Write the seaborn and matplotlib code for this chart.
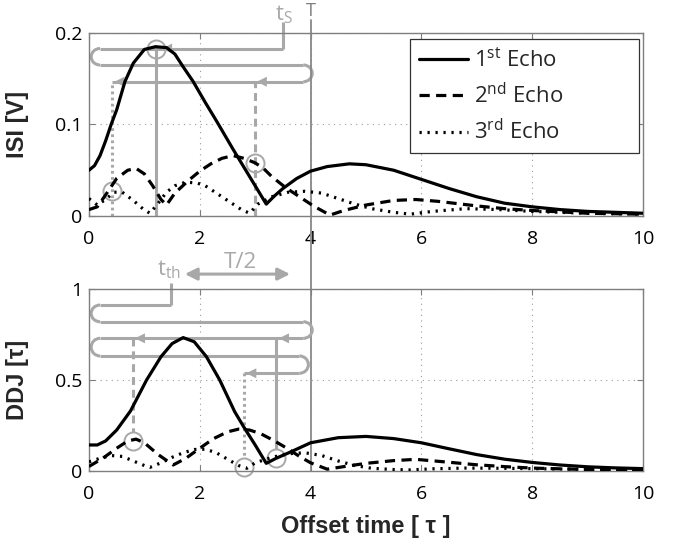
import numpy as np
import pandas as pd
import matplotlib
matplotlib.use('Agg')
import matplotlib.pyplot as plt
import seaborn as sns
from matplotlib.patches import Arc
from matplotlib.lines import Line2D

# ---------------- data ----------------
echo_labels = ['1st', '2nd', '3rd']
legend_text = ['1$^{st}$ Echo', '2$^{nd}$ Echo', '3$^{rd}$ Echo']
x_ticks = [0, 2, 4, 6, 8, 10]
isi_ticks = [0, 0.1, 0.2]
isi_tick_labels = ['0', '0.1', '0.2']
ddj_ticks = [0, 0.5, 1]
ddj_tick_labels = ['0', '0.5', '1']

# ISI [V]
t_isi1 = [0, 0.1, 0.2, 0.3, 0.4, 0.5, 0.65, 0.8, 1.0, 1.2, 1.4, 1.55, 1.7, 1.88, 2.1, 2.3, 2.6, 2.9,
          3.2, 3.35, 3.5, 3.75, 4.0, 4.3, 4.7, 5.0, 5.5, 6.0, 6.5, 7.0, 7.5, 8.0, 8.5, 9.0, 9.5, 10]
isi1 = [0.050, 0.055, 0.066, 0.082, 0.100, 0.116, 0.147, 0.167, 0.182, 0.185, 0.184, 0.177, 0.163,
        0.147, 0.124, 0.104, 0.073, 0.043, 0.013, 0.022, 0.030, 0.041, 0.049, 0.054, 0.057, 0.056,
        0.050, 0.040, 0.030, 0.021, 0.014, 0.010, 0.007, 0.005, 0.004, 0.003]
t_isi2 = [0, 0.15, 0.3, 0.5, 0.7, 0.85, 1.0, 1.15, 1.3, 1.4, 1.55, 1.8, 2.0, 2.2, 2.4, 2.6, 2.8, 3.0,
          3.15, 3.3, 3.55, 3.8, 4.05, 4.35, 4.6, 5.0, 5.5, 5.9, 6.3, 7.0, 7.5, 8.0, 9.0, 10]
isi2 = [0.007, 0.010, 0.023, 0.041, 0.050, 0.052, 0.046, 0.033, 0.018, 0.012, 0.025, 0.039, 0.049,
        0.057, 0.063, 0.066, 0.063, 0.058, 0.052, 0.043, 0.031, 0.021, 0.011, 0.001, 0.006, 0.012,
        0.017, 0.018, 0.016, 0.011, 0.008, 0.006, 0.003, 0.002]
t_isi3 = [0, 0.15, 0.3, 0.45, 0.6, 0.8, 0.97, 1.1, 1.25, 1.4, 1.55, 1.75, 1.95, 2.1, 2.3, 2.55, 2.75,
          2.9, 3.05, 3.3, 3.6, 3.9, 4.2, 4.5, 4.8, 5.1, 5.5, 5.8, 6.2, 6.8, 7.4, 8.0, 9.0, 10]
isi3 = [0.019, 0.012, 0.018, 0.026, 0.026, 0.017, 0.008, 0.003, 0.014, 0.026, 0.033, 0.037, 0.036,
        0.033, 0.025, 0.015, 0.007, 0.003, 0.013, 0.021, 0.026, 0.027, 0.025, 0.019, 0.013, 0.008,
        0.004, 0.002, 0.005, 0.008, 0.007, 0.005, 0.003, 0.002]

# DDJ [tau]
t_ddj1 = [0, 0.15, 0.3, 0.5, 0.75, 1.04, 1.3, 1.5, 1.7, 1.9, 2.12, 2.36, 2.63, 2.81, 3.0, 3.2, 3.38,
          3.65, 4.0, 4.5, 5.0, 5.5, 6.0, 6.5, 7.0, 7.5, 8.0, 8.5, 9.0, 9.5, 10]
ddj1 = [0.143, 0.143, 0.165, 0.225, 0.33, 0.5, 0.628, 0.70, 0.733, 0.71, 0.628, 0.5, 0.326, 0.234,
        0.143, 0.042, 0.07, 0.106, 0.155, 0.183, 0.19, 0.178, 0.155, 0.122, 0.09, 0.065, 0.047,
        0.033, 0.023, 0.017, 0.013]
t_ddj2 = [0, 0.25, 0.5, 0.7, 0.85, 1.0, 1.25, 1.52, 1.75, 2.0, 2.25, 2.5, 2.7, 2.9, 3.1, 3.35, 3.6,
          3.8, 4.0, 4.3, 4.6, 5.0, 5.5, 5.9, 6.5, 7.0, 7.5, 8.0, 9.0, 10]
ddj2 = [0.025, 0.07, 0.125, 0.165, 0.175, 0.155, 0.09, 0.033, 0.07, 0.125, 0.178, 0.215, 0.23, 0.225,
        0.205, 0.165, 0.12, 0.08, 0.045, 0.01, 0.024, 0.042, 0.057, 0.064, 0.048, 0.034, 0.024,
        0.016, 0.008, 0.005]
t_ddj3 = [0, 0.2, 0.4, 0.6, 0.8, 1.0, 1.1, 1.3, 1.5, 1.7, 1.9, 2.1, 2.3, 2.5, 2.7, 2.85, 3.0, 3.3,
          3.6, 3.9, 4.2, 4.5, 4.8, 5.1, 5.5, 5.8, 6.2, 6.8, 7.4, 8.0, 9.0, 10]
ddj3 = [0.05, 0.07, 0.085, 0.08, 0.055, 0.03, 0.02, 0.045, 0.075, 0.10, 0.118, 0.12, 0.10, 0.065,
        0.03, 0.015, 0.045, 0.075, 0.095, 0.10, 0.085, 0.055, 0.03, 0.015, 0.008, 0.006, 0.012,
        0.016, 0.015, 0.013, 0.009, 0.006]

# ---------------- style ----------------
sns.set_style('ticks')
plt.rcParams['font.family'] = ['Open Sans', 'DejaVu Sans']
plt.rcParams['mathtext.fontset'] = 'custom'
plt.rcParams['mathtext.rm'] = 'Open Sans'
plt.rcParams['mathtext.it'] = 'Open Sans:italic'
plt.rcParams['mathtext.bf'] = 'Open Sans:bold'
plt.rcParams['mathtext.default'] = 'rm'


def make_long(series):
    frames = []
    for name, (t, v) in zip(echo_labels, series):
        frames.append(pd.DataFrame({'t': t, 'v': v, 'echo': name}))
    return pd.concat(frames, ignore_index=True)


df_isi = make_long([(t_isi1, isi1), (t_isi2, isi2), (t_isi3, isi3)])
df_ddj = make_long([(t_ddj1, ddj1), (t_ddj2, ddj2), (t_ddj3, ddj3)])

fig = plt.figure(figsize=(6.74, 5.45), dpi=100)
ax1 = fig.add_axes([0.1320, 0.6037, 0.8220, 0.3358])
ax2 = fig.add_axes([0.1320, 0.1358, 0.8220, 0.3339])
ax2.patch.set_visible(False)

LW = 2.3
DASH2 = (3.2, 2.0)
DASH3 = (0.7, 1.8)
dash_map = {'1st': '', '2nd': DASH2, '3rd': DASH3}

for ax, df in ((ax1, df_isi), (ax2, df_ddj)):
    sns.lineplot(data=df, x='t', y='v', style='echo', style_order=echo_labels, dashes=dash_map,
                 color='black', linewidth=LW, estimator=None, sort=False, legend=False, ax=ax,
                 zorder=3)

SPINE = '#7f7f7f'
for ax, yt, ytl, ylim in ((ax1, isi_ticks, isi_tick_labels, (0, 0.2)),
                          (ax2, ddj_ticks, ddj_tick_labels, (0, 1))):
    ax.set_xlim(0, 10)
    ax.set_ylim(*ylim)
    ax.set_xticks(x_ticks)
    ax.set_xticklabels([str(v) for v in x_ticks])
    ax.set_yticks(yt)
    ax.set_yticklabels(ytl)
    ax.tick_params(direction='in', length=4, width=0.8, color=SPINE, top=True, right=True,
                   labelsize=14, labelcolor='black')
    ax.tick_params(axis='y', pad=5)
    ax.tick_params(axis='x', pad=10)
    for s in ax.spines.values():
        s.set_visible(True)
        s.set_color(SPINE)
        s.set_linewidth(1.0)
    ax.set_axisbelow(True)
    ax.grid(True, linestyle=(0, (1, 4)), color='#9a9a9a', linewidth=0.8)
    ax.set_xlabel('')
    ax.set_ylabel('')

lab_font = dict(family=['Liberation Sans', 'DejaVu Sans'], weight='bold', size=17)
ax1.set_ylabel('ISI [V]', fontdict=lab_font)
ax1.yaxis.set_label_coords(-0.108, 0.5)
ax2.set_ylabel('DDJ [τ]', fontdict=lab_font)
ax2.yaxis.set_label_coords(-0.108, 0.5)
ax2.set_xlabel('Offset time [ τ ]', fontdict=lab_font)
ax2.xaxis.set_label_coords(0.5, -0.24)

# legend
handles = [Line2D([], [], color='black', lw=LW, linestyle='-'),
           Line2D([], [], color='black', lw=LW, linestyle=(0, DASH2)),
           Line2D([], [], color='black', lw=LW, linestyle=(0, DASH3))]
leg = ax1.legend(handles, legend_text, loc='upper left', bbox_to_anchor=(0.579, 0.0, 0.413, 0.967),
                 mode='expand', borderaxespad=0, fontsize=16, frameon=True, fancybox=False,
                 edgecolor='#333333', framealpha=1, handlelength=2.2, handletextpad=0.3,
                 labelspacing=0.5, borderpad=0.4)
leg.get_frame().set_linewidth(0.9)
leg.set_zorder(6)

# ---------------- gray annotations ----------------
GRAY = '#a8a8a8'
ALW = 2.2
line_kw = dict(color=GRAY, lw=ALW, clip_on=False, zorder=2, solid_capstyle='butt')


def head(ax, x, y, dx=0.3):
    ax.annotate('', xy=(x, y), xytext=(x + dx, y),
                arrowprops=dict(arrowstyle='-|>,head_length=0.4,head_width=0.2',
                                mutation_scale=18, color=GRAY, lw=0, shrinkA=0, shrinkB=0),
                annotation_clip=False, zorder=2)


def loop(ax, xc, ya, yb, side):
    th = (90, 270) if side == 'left' else (-90, 90)
    ax.add_patch(Arc((xc, (ya + yb) / 2), 0.32, abs(ya - yb), theta1=th[0], theta2=th[1],
                     color=GRAY, lw=ALW, zorder=2, clip_on=False))


def circ(ax, x, y):
    ax.plot([x], [y], 'o', ms=13, mfc='none', mec=GRAY, mew=1.4, zorder=2, clip_on=False)


# top panel
y1, y2, y3 = 0.183, 0.165, 0.1467
xl, xr = 0.2, 3.87
ax1.plot([3.51, 3.51], [0.212, y1], **line_kw)
ax1.plot([3.51, xl], [y1, y1], **line_kw)
loop(ax1, xl, y1, y2, 'left')
ax1.plot([xl, xr], [y2, y2], **line_kw)
loop(ax1, xr, y2, y3, 'right')
ax1.plot([xr, 0.41], [y3, y3], **line_kw)
head(ax1, 1.32, y1)
head(ax1, 3.03, y3)
head(ax1, 0.46, y3)
ax1.plot([1.21, 1.21], [0, y1], **line_kw)
ax1.plot([3.0, 3.0], [0, y3], linestyle=(0, (2.6, 1.6)), **line_kw)
ax1.plot([0.41, 0.41], [0, y3], linestyle=(0, (0.9, 1.1)), **line_kw)
circ(ax1, 1.21, 0.183)
circ(ax1, 3.0, 0.058)
circ(ax1, 0.41, 0.027)
ax1.text(3.52, 0.2197, 't$_S$', color=GRAY, fontsize=16, ha='center', va='center', clip_on=False)

# T marker line spanning both panels
ax1.plot([4, 4], [0.2142, -0.2787], color='#888888', lw=1.3, clip_on=False, zorder=2.5)
ax1.text(4.0, 0.2245, 'T', color='#7f7f7f', fontsize=13, ha='center', va='center')

# bottom panel
yA, yB, yC, yD, yE = 0.912, 0.820, 0.729, 0.632, 0.537
ax2.plot([1.48, 1.48], [1.033, yA], **line_kw)
ax2.plot([1.48, xl], [yA, yA], **line_kw)
loop(ax2, xl, yA, yB, 'left')
ax2.plot([xl, 3.87], [yB, yB], **line_kw)
loop(ax2, 3.87, yB, yC, 'right')
ax2.plot([3.87, xl], [yC, yC], **line_kw)
loop(ax2, xl, yC, yD, 'left')
ax2.plot([xl, 3.80], [yD, yD], **line_kw)
loop(ax2, 3.80, yD, yE, 'right')
ax2.plot([3.80, 2.79], [yE, yE], **line_kw)
head(ax2, 0.83, yC)
head(ax2, 3.43, yC)
head(ax2, 2.84, yE)
ax2.plot([0.8, 0.8], [yC, 0.213], linestyle=(0, (2.6, 1.6)), **line_kw)
ax2.plot([3.37, 3.37], [yC, 0.123], **line_kw)
ax2.plot([2.79, 2.79], [yE, 0.074], linestyle=(0, (0.9, 1.1)), **line_kw)
circ(ax2, 0.8, 0.163)
circ(ax2, 3.37, 0.073)
circ(ax2, 2.79, 0.024)
ax2.annotate('', xy=(1.73, 1.082), xytext=(3.63, 1.082),
             arrowprops=dict(arrowstyle='<|-|>,head_length=0.4,head_width=0.2', mutation_scale=18,
                             color=GRAY, lw=ALW, shrinkA=0, shrinkB=0),
             annotation_clip=False)
ax2.text(2.73, 1.146, 'T/2', color=GRAY, fontsize=16, ha='center', va='center', clip_on=False)
ax2.text(1.45, 1.104, 't$_{th}$', color=GRAY, fontsize=16, ha='center', va='center', clip_on=False)

fig.savefig('out.png', dpi=100)
